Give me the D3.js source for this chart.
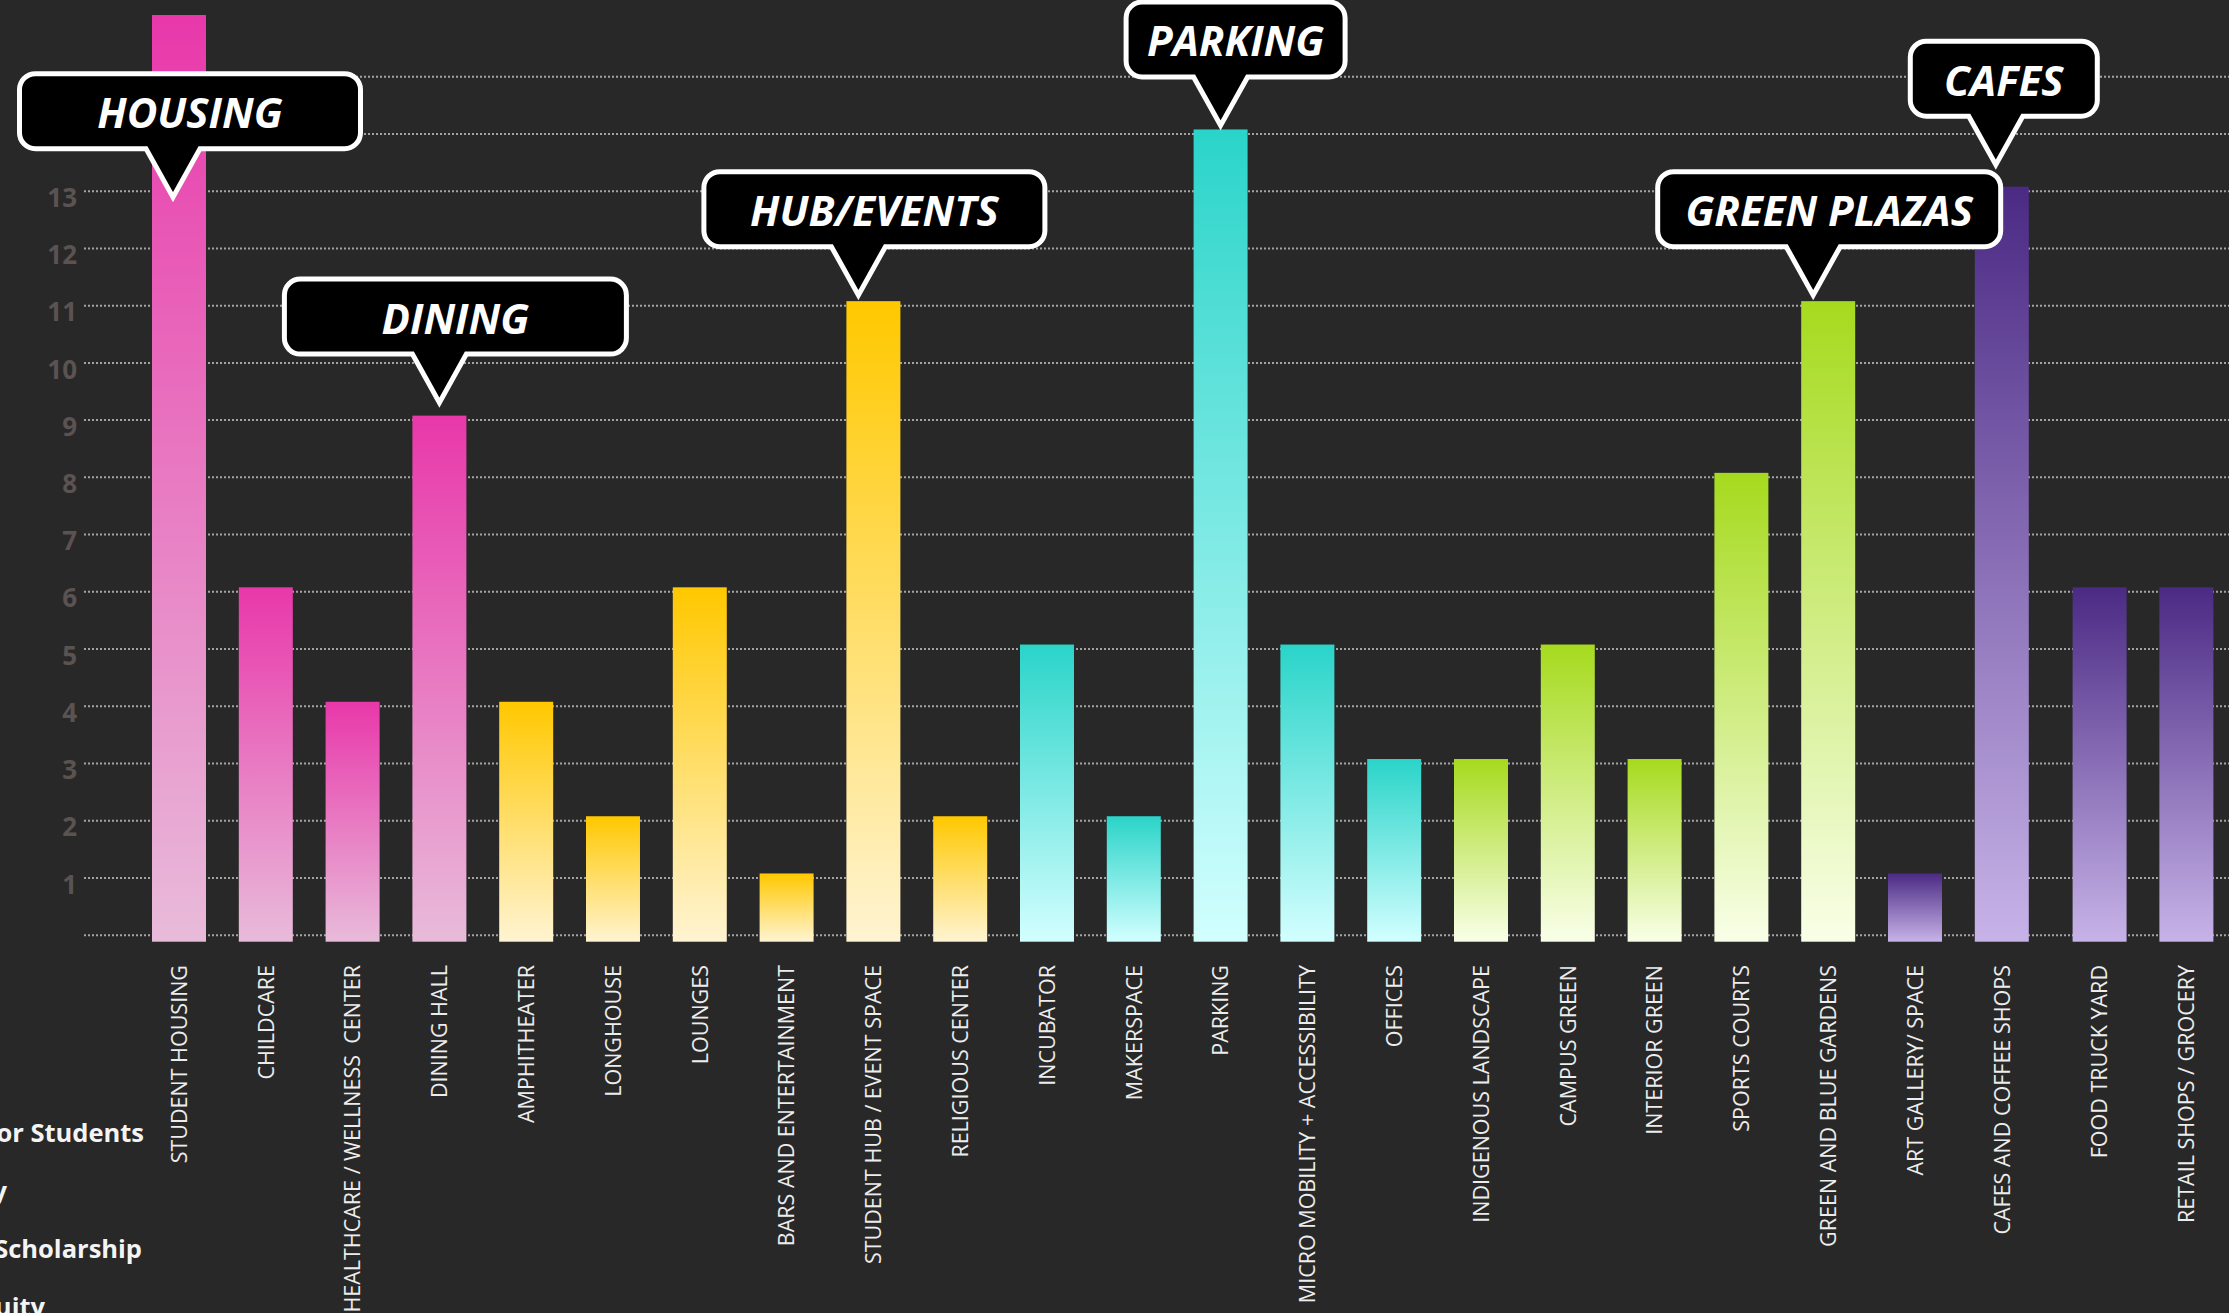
<!DOCTYPE html>
<html>
<head>
<meta charset="utf-8">
<script src="https://cdn.jsdelivr.net/npm/d3@7"></script>
<style>
  html, body { margin: 0; padding: 0; background: #282828; overflow: hidden; }
  svg { display: block; font-family: "Open Sans", sans-serif; }
</style>
</head>
<body>
<script>
// categories + how many times each was mentioned
var categories = [
  "STUDENT HOUSING", "CHILDCARE", "HEALTHCARE / WELLNESS  CENTER", "DINING HALL",
  "AMPHITHEATER", "LONGHOUSE", "LOUNGES", "BARS AND ENTERTAINMENT",
  "STUDENT HUB / EVENT SPACE", "RELIGIOUS CENTER",
  "INCUBATOR", "MAKERSPACE", "PARKING", "MICRO MOBILITY + ACCESSIBILITY", "OFFICES",
  "INDIGENOUS LANDSCAPE", "CAMPUS GREEN", "INTERIOR GREEN", "SPORTS COURTS", "GREEN AND BLUE GARDENS",
  "ART GALLERY/ SPACE", "CAFES AND COFFEE SHOPS", "FOOD TRUCK YARD", "RETAIL SHOPS / GROCERY"
];
var counts = [16, 6, 4, 9, 4, 2, 6, 1, 11, 2, 5, 2, 14, 5, 3, 3, 5, 3, 8, 11, 1, 13, 6, 6];
var groups = [
  "living", "living", "living", "living",
  "social", "social", "social", "social", "social", "social",
  "work", "work", "work", "work", "work",
  "green", "green", "green", "green", "green",
  "shops", "shops", "shops", "shops"
];

var gridValues = [0, 1, 2, 3, 4, 5, 6, 7, 8, 9, 10, 11, 12, 13, 14, 15];
var tickLabels = [1, 2, 3, 4, 5, 6, 7, 8, 9, 10, 11, 12, 13];

var calloutLabels = ["HOUSING", "DINING", "HUB/EVENTS", "PARKING", "GREEN PLAZAS", "CAFES"];
var calloutTargets = ["STUDENT HOUSING", "DINING HALL", "STUDENT HUB / EVENT SPACE", "PARKING",
                      "GREEN AND BLUE GARDENS", "CAFES AND COFFEE SHOPS"];

var legendLines = ["Resources for Students", "Community", "Research + Scholarship", "Equity"];

var width = 2229,
    height = 1313;

var svg = d3.select("body")
    .append("svg")
    .attr("width", width)
    .attr("height", height);

// gradient colours per group (top -> bottom)
var palette = {
  living: ["#e838aa", "#e8bbda"],
  social: ["#ffc800", "#fff4d2"],
  work:   ["#2ad4c9", "#d2ffff"],
  green:  ["#a6da1e", "#f9ffe8"],
  shops:  ["#4b2a84", "#c7b3e8"]
};

var defs = svg.append("defs");
Object.keys(palette).forEach(function(g) {
  var grad = defs.append("linearGradient")
      .attr("id", "grad-" + g)
      .attr("x1", 0).attr("y1", 0).attr("x2", 0).attr("y2", 1);
  grad.append("stop").attr("offset", "0%").attr("stop-color", palette[g][0]);
  grad.append("stop").attr("offset", "100%").attr("stop-color", palette[g][1]);
});

var y = d3.scaleLinear()
    .domain([0, 13])
    .range([934.7, 190.7]);

var x = d3.scaleBand()
    .domain(categories)
    .range([152, 152 + 86.8 * (categories.length - 0.378)])
    .paddingInner(0.378)
    .paddingOuter(0);

// the last two shops sit a little further apart in the original
var shopGap = 11;
function xPos(d, i) {
  return x(d) + (i > 21 ? shopGap : 0);
}

// gridlines + y labels
var axisX = 84;
var yAxis = d3.axisLeft(y)
    .tickValues(gridValues)
    .tickSizeInner(-(width - axisX))
    .tickSizeOuter(0)
    .tickPadding(7)
    .tickFormat(function(d) { return tickLabels.indexOf(d) >= 0 ? d : ""; });

var axisG = svg.append("g")
    .attr("transform", "translate(" + axisX + ",0)")
    .call(yAxis);
axisG.select(".domain").remove();
axisG.selectAll(".tick line")
    .attr("stroke", "#a3a3a3")
    .attr("stroke-width", 2)
    .attr("stroke-dasharray", "2,2");
axisG.selectAll(".tick text")
    .attr("fill", "#5b5352")
    .attr("font-size", 26)
    .attr("font-weight", 700)
    .attr("font-family", "'Open Sans', sans-serif")
    .attr("dy", "0.6em");

// bars
svg.selectAll("rect.bar")
    .data(categories)
    .enter()
    .append("rect")
    .attr("class", "bar")
    .attr("x", function(d, i) { return xPos(d, i); })
    .attr("y", function(d, i) { return y(counts[i]) - 4; })
    .attr("width", x.bandwidth())
    .attr("height", function(d, i) { return y(0) + 7 - (y(counts[i]) - 4); })
    .attr("fill", function(d, i) { return "url(#grad-" + groups[i] + ")"; });

// category labels
svg.selectAll("text.cat")
    .data(categories)
    .enter()
    .append("text")
    .attr("class", "cat")
    .attr("transform", function(d, i) {
      return "translate(" + (xPos(d, i) + x.bandwidth() / 2) + ",965) rotate(-90)";
    })
    .attr("text-anchor", "end")
    .attr("dy", "0.36em")
    .attr("font-size", 21.5)
    .attr("fill", "#ececec")
    .style("white-space", "pre")
    .text(function(d) { return d; });

// callout boxes: tip offset from bar centre, gap above value, box width, box shift
var calloutLayout = {
  "HOUSING":      { tipDx: -6,  tipY: 12.8, w: 346, boxDx: 17 },
  "DINING":       { tipDx: 0,   gap: 12,    w: 347, boxDx: 16 },
  "HUB/EVENTS":   { tipDx: -15, gap: 5,     w: 346, boxDx: 16 },
  "PARKING":      { tipDx: 0,   gap: 3,     w: 224, boxDx: 15 },
  "GREEN PLAZAS": { tipDx: -15, gap: 5,     w: 348, boxDx: 16 },
  "CAFES":        { tipDx: -6,  gap: 21,    w: 192, boxDx: 8 }
};

var sw = 5, r = 16, boxH = 80, pointerH = 51, halfBase = 27;

calloutLabels.forEach(function(label, k) {
  var i = categories.indexOf(calloutTargets[k]);
  var lay = calloutLayout[label];
  var tx = xPos(categories[i], i) + x.bandwidth() / 2 + lay.tipDx;
  var ty = lay.tipY !== undefined ? y(lay.tipY) : y(counts[i]) - lay.gap;
  var bx = tx + lay.boxDx;
  var outerTop = ty - pointerH - boxH;
  var left = bx - lay.w / 2 + sw / 2,
      right = bx + lay.w / 2 - sw / 2,
      top = outerTop + sw / 2,
      bottom = outerTop + boxH - sw / 2;

  var p = d3.path();
  p.moveTo(left + r, top);
  p.lineTo(right - r, top);
  p.arcTo(right, top, right, top + r, r);
  p.lineTo(right, bottom - r);
  p.arcTo(right, bottom, right - r, bottom, r);
  p.lineTo(tx + halfBase, bottom);
  p.lineTo(tx, ty - 5);
  p.lineTo(tx - halfBase, bottom);
  p.lineTo(left + r, bottom);
  p.arcTo(left, bottom, left, bottom - r, r);
  p.lineTo(left, top + r);
  p.arcTo(left, top, left + r, top, r);
  p.closePath();

  var g = svg.append("g").attr("class", "callout");
  g.append("path")
      .attr("d", p.toString())
      .attr("fill", "#000")
      .attr("stroke", "#fff")
      .attr("stroke-width", sw)
      .attr("stroke-linejoin", "miter")
      .attr("stroke-miterlimit", 10);
  g.append("text")
      .attr("x", bx)
      .attr("y", outerTop + 57)
      .attr("text-anchor", "middle")
      .attr("font-size", 42)
      .attr("font-weight", 700)
      .attr("font-style", "italic")
      .attr("fill", "#fff")
      .text(label);
});

// legend text, mostly cut off by the left edge
var legendEnds = [144, 7, 142, 45];
svg.selectAll("text.legend")
    .data(legendLines)
    .enter()
    .append("text")
    .attr("class", "legend")
    .attr("x", function(d, i) { return legendEnds[i]; })
    .attr("y", function(d, i) { return 1142 + i * 58; })
    .attr("text-anchor", "end")
    .attr("font-size", 25.5)
    .attr("font-weight", 700)
    .attr("fill", "#f4f4f4")
    .text(function(d) { return d; });
</script>
</body>
</html>
